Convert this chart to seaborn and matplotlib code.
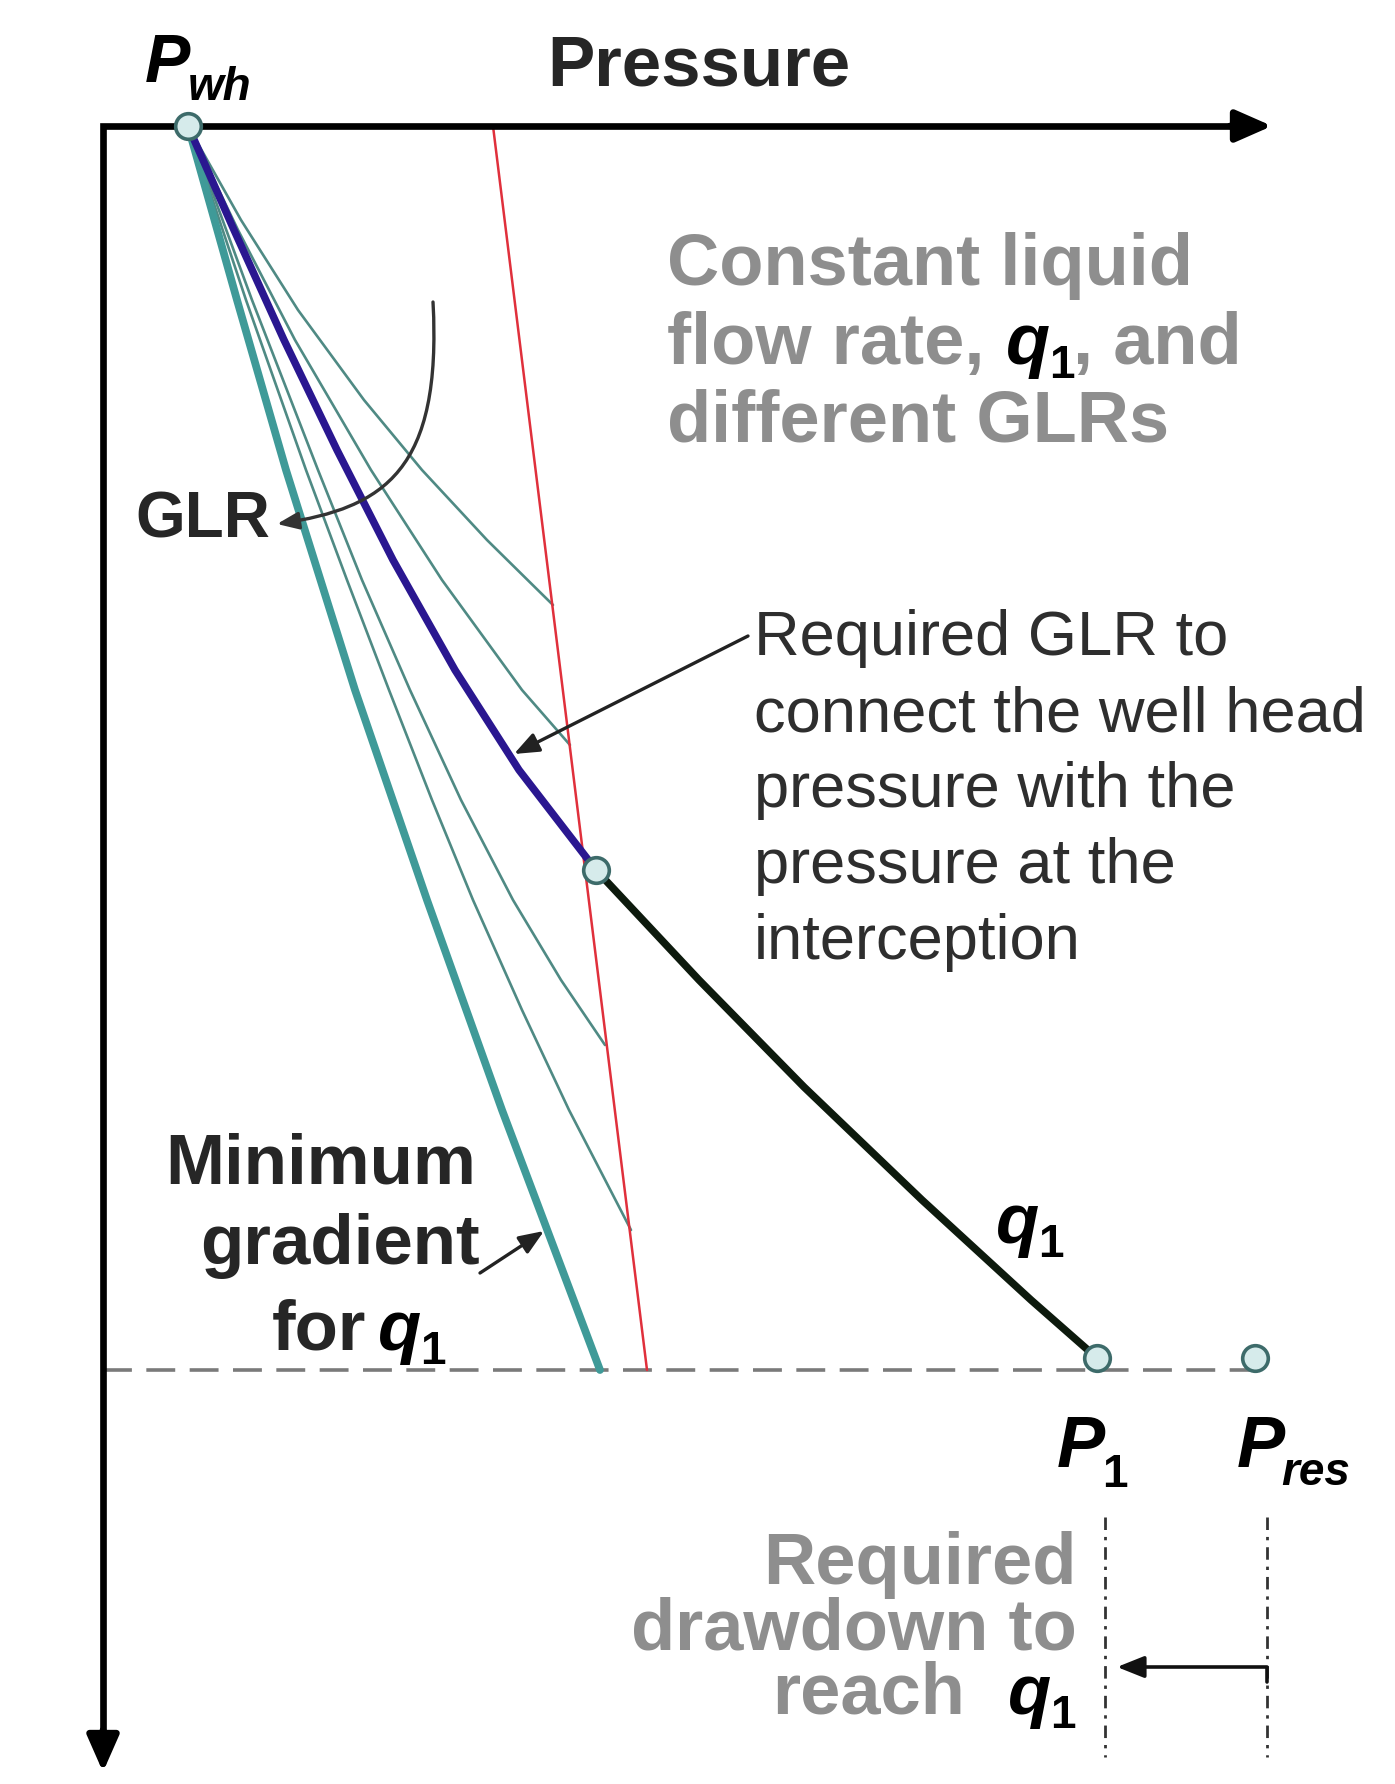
import matplotlib

matplotlib.use("Agg")
import matplotlib.pyplot as plt
import seaborn as sns
from matplotlib.patches import FancyArrowPatch
from matplotlib.path import Path

sns.set_theme(style="white")
plt.rcParams["font.family"] = ["Liberation Sans", "DejaVu Sans"]

# Schematic, units are image pixels (pressure -> right, depth -> down)
WELLHEAD = (188, 126)
INTERCEPT = (596, 870)
P1_POINT = (1097, 1358)
PRES_POINT = (1255, 1358)
DATUM_DEPTH = 1370

GLR_1_P = [188, 241, 298, 364, 422, 487, 553]
GLR_1_D = [126, 220, 310, 400, 470, 540, 605]
GLR_2_P = [188, 238, 295, 371, 442, 522, 570]
GLR_2_D = [126, 230, 340, 470, 580, 690, 745]
REQUIRED_P = [188, 234, 284, 337, 393, 455, 519, 596]
REQUIRED_D = [126, 230, 340, 450, 560, 670, 770, 870]
GLR_3_P = [188, 252, 318, 362, 410, 461, 513, 561, 605]
GLR_3_D = [126, 300, 470, 580, 690, 800, 900, 980, 1045]
GLR_4_P = [188, 246, 306, 347, 389, 432, 473, 522, 569, 631]
GLR_4_D = [126, 300, 470, 580, 690, 800, 900, 1010, 1110, 1230]
MIN_GRAD_P = [188, 237, 286, 355, 427, 502, 600]
MIN_GRAD_D = [126, 300, 470, 690, 900, 1110, 1370]
Q1_P = [596, 699, 804, 922, 1031, 1097]
Q1_D = [870, 980, 1087, 1200, 1300, 1358]
RED_P = [493, 647]
RED_D = [126, 1370]

THIN_COLOR = "#4f8a84"
GRAY_TEXT = "#8e8e8e"

BIG_BOLD = dict(fontsize=52, fontweight="bold")
SYMBOL = dict(fontsize=51, fontweight="bold", fontstyle="italic", color="black")
SUB = dict(fontsize=33, fontweight="bold", color="black")
SUB_IT = dict(fontsize=33, fontweight="bold", fontstyle="italic", color="black")


def place_run(ax, x, y, pieces, renderer):
    # lay pieces of text one after the other on a common baseline
    inv = ax.transData.inverted()
    for string, props, drop, gap in pieces:
        t = ax.text(x + gap, y + drop, string, va="baseline", ha="left", **props)
        box = t.get_window_extent(renderer=renderer)
        x = inv.transform((box.x1, box.y0))[0]
    return x


def q1(size=51):
    return [("q", dict(SYMBOL, fontsize=size), 0, 0), ("1", SUB, 14, 3)]


def main():
    fig = plt.figure(figsize=(13.95, 17.84), dpi=100)
    ax = fig.add_axes([0, 0, 1, 1])
    renderer = fig.canvas.get_renderer()

    # datum (reservoir depth) dashed line
    ax.plot([103, PRES_POINT[0]], [DATUM_DEPTH, DATUM_DEPTH], color="#7a7a7a",
            lw=2.6, linestyle=(0, (8, 4)), zorder=1)

    # thin GLR curves
    for p, d in ((GLR_1_P, GLR_1_D), (GLR_2_P, GLR_2_D), (GLR_3_P, GLR_3_D),
                 (GLR_4_P, GLR_4_D)):
        sns.lineplot(x=p, y=d, sort=False, estimator=None, color=THIN_COLOR,
                     linewidth=1.9, ax=ax, zorder=2, solid_joinstyle="round")
    sns.lineplot(x=RED_P, y=RED_D, sort=False, estimator=None, color="#e0303c",
                 linewidth=1.8, ax=ax, zorder=3)
    sns.lineplot(x=MIN_GRAD_P, y=MIN_GRAD_D, sort=False, estimator=None,
                 color="#3f9a98", linewidth=5.6, ax=ax, zorder=4,
                 solid_capstyle="round", solid_joinstyle="round")
    sns.lineplot(x=REQUIRED_P, y=REQUIRED_D, sort=False, estimator=None,
                 color="#2a1790", linewidth=5.4, ax=ax, zorder=5,
                 solid_capstyle="round", solid_joinstyle="round")
    sns.lineplot(x=Q1_P, y=Q1_D, sort=False, estimator=None, color="#0d1a0d",
                 linewidth=5.4, ax=ax, zorder=5, solid_capstyle="round",
                 solid_joinstyle="round")

    # axes drawn as an L with arrow heads
    ax.plot([1245, 103, 103], [126, 126, 1745], color="black", lw=4.8,
            solid_joinstyle="miter", zorder=6)
    for tip, start in (((1272, 126), (1230, 126)), ((103, 1772), (103, 1730))):
        ax.annotate("", xy=tip, xytext=start, zorder=6,
                    arrowprops=dict(arrowstyle="-|>,head_length=0.5,head_width=0.22",
                                    color="black", lw=4.8, mutation_scale=44,
                                    shrinkA=0, shrinkB=0))

    # markers
    sns.scatterplot(x=[WELLHEAD[0], INTERCEPT[0], P1_POINT[0], PRES_POINT[0]],
                    y=[WELLHEAD[1], INTERCEPT[1], P1_POINT[1], PRES_POINT[1]],
                    s=340, color="#d6ebeb", edgecolor="#3d6b6a", linewidth=2.6,
                    ax=ax, zorder=8)

    # vertical dash-dot references
    for x in (1105, 1267):
        ax.plot([x, x], [1517, 1757], color="#333333", lw=2.0,
                linestyle=(0, (4.5, 2.5, 1.2, 2.5)), zorder=2)
    drawdown = Path([(1267, 1682), (1267, 1667), (1117, 1667)],
                    [Path.MOVETO, Path.LINETO, Path.LINETO])
    ax.add_patch(FancyArrowPatch(path=drawdown,
                                 arrowstyle="-|>,head_length=0.55,head_width=0.22",
                                 mutation_scale=30, color="#111111", lw=2.6,
                                 zorder=6))

    # GLR curved arrow
    glr_arrow = Path([(433, 302), (442, 470), (385, 508), (277, 524)],
                     [Path.MOVETO, Path.CURVE4, Path.CURVE4, Path.CURVE4])
    ax.add_patch(FancyArrowPatch(path=glr_arrow,
                                 arrowstyle="-|>,head_length=0.5,head_width=0.2",
                                 mutation_scale=26, color="#333333", lw=2.4,
                                 zorder=7))
    pointer = dict(arrowstyle="-|>,head_length=0.5,head_width=0.2", color="#222222",
                   lw=2.4, mutation_scale=30, shrinkA=0, shrinkB=0)
    ax.annotate("", xy=(514, 754), xytext=(748, 636), arrowprops=pointer, zorder=7)
    ax.annotate("", xy=(544, 1231), xytext=(480, 1273), arrowprops=pointer, zorder=7)

    # labels
    ax.text(547, 86, "Pressure", fontsize=51, fontweight="bold", va="baseline")
    place_run(ax, 145, 82, [("P", dict(SYMBOL, fontsize=49), 0, 0),
                            ("wh", SUB_IT, 18, 2)], renderer)

    ax.text(667, 285, "Constant liquid", color=GRAY_TEXT, va="baseline", **BIG_BOLD)
    ax.text(667, 364, "flow rate,", color=GRAY_TEXT, va="baseline", **BIG_BOLD)
    place_run(ax, 1006, 364, [("q", dict(SYMBOL, fontsize=52), 0, 0),
                              ("1", SUB, 14, 3),
                              (", and", dict(BIG_BOLD, color=GRAY_TEXT), 0, 1)],
              renderer)
    ax.text(667, 441, "different GLRs", color=GRAY_TEXT, va="baseline", **BIG_BOLD)
    ax.text(135, 538, "GLR", fontsize=46, fontweight="bold", va="baseline")

    for line, base in zip(["Required GLR to", "connect the well head",
                           "pressure with the", "pressure at the", "interception"],
                          [655, 731, 807, 883, 959]):
        ax.text(754, base, line, fontsize=45.5, color="#2e2e2e", va="baseline")

    ax.text(476, 1183, "Minimum", fontsize=51, fontweight="bold", ha="right",
            va="baseline")
    ax.text(480, 1264, "gradient", fontsize=51, fontweight="bold", ha="right",
            va="baseline")
    ax.text(366, 1350, "for", fontsize=51, fontweight="bold", ha="right",
            va="baseline")
    place_run(ax, 378, 1350, q1(), renderer)
    place_run(ax, 996, 1243, q1(), renderer)

    place_run(ax, 1057, 1467, [("P", dict(SYMBOL, fontsize=52), 0, 0),
                               ("1", SUB, 20, 1)], renderer)
    place_run(ax, 1237, 1467, [("P", dict(SYMBOL, fontsize=52), 0, 0),
                               ("res", SUB_IT, 18, 0)], renderer)

    ax.text(1077, 1584, "Required", ha="right", color=GRAY_TEXT, va="baseline",
            **BIG_BOLD)
    ax.text(1077, 1649, "drawdown to", ha="right", color=GRAY_TEXT, va="baseline",
            **BIG_BOLD)
    ax.text(965, 1714, "reach", ha="right", color=GRAY_TEXT, va="baseline",
            **BIG_BOLD)
    place_run(ax, 1008, 1714, q1(), renderer)

    ax.set_xlim(0, 1395)
    ax.set_ylim(1784, 0)
    ax.axis("off")
    fig.savefig("out.png", dpi=100)


if __name__ == "__main__":
    main()
